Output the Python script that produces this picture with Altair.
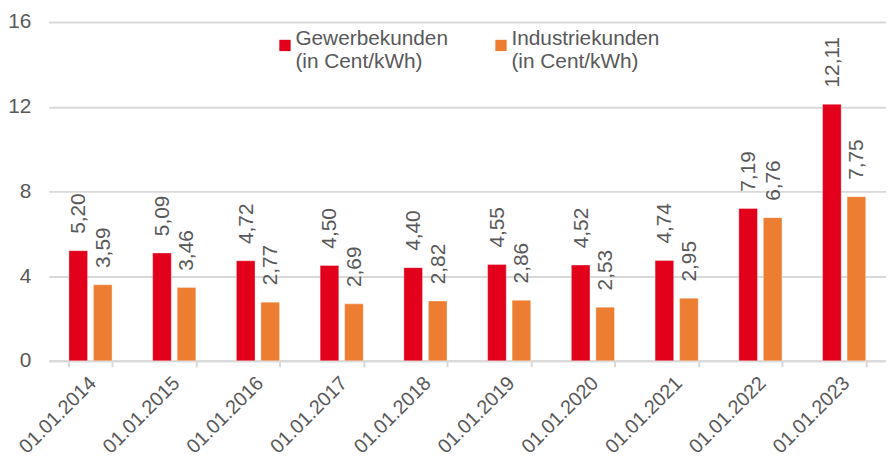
import altair as alt
import pandas as pd

dates = ["01.01.2014", "01.01.2015", "01.01.2016", "01.01.2017", "01.01.2018",
         "01.01.2019", "01.01.2020", "01.01.2021", "01.01.2022", "01.01.2023"]
gewerbe = [5.20, 5.09, 4.72, 4.50, 4.40, 4.55, 4.52, 4.74, 7.19, 12.11]
industrie = [3.59, 3.46, 2.77, 2.69, 2.82, 2.86, 2.53, 2.95, 6.76, 7.75]
series = ["Gewerbekunden", "Industriekunden"]
colors = ["#E2001A", "#ED7D31"]
y_ticks = [0, 4, 8, 12, 16]

rows = []
for d, g, i in zip(dates, gewerbe, industrie):
    rows.append({"date": d, "series": series[0], "value": g})
    rows.append({"date": d, "series": series[1], "value": i})
df = pd.DataFrame(rows)

FONT = "Liberation Sans"
GREY = "#595959"
GRID = "#d9d9d9"
FS = 21

x = alt.X("date:N", sort=dates, title=None,
          scale=alt.Scale(paddingInner=0.485, paddingOuter=0.2425),
          axis=alt.Axis(labelAngle=-45, labelFontSize=20, labelColor=GREY, labelFont=FONT,
                        labelAlign="right", labelBaseline="middle",
                        domainColor=GRID, domainWidth=2, tickColor=GRID, tickWidth=2,
                        tickSize=6, tickBand="extent", labelPadding=13, labelOffset=2,
                        grid=False))
xo = alt.XOffset("series:N", sort=series,
                 scale=alt.Scale(paddingInner=0.24, paddingOuter=0))
y = alt.Y("value:Q", title=None,
          scale=alt.Scale(domain=[0, 16], nice=False),
          axis=alt.Axis(values=y_ticks, labelFontSize=FS, labelColor=GREY, labelFont=FONT,
                        domain=False, ticks=False, labelPadding=18,
                        gridColor=GRID, gridWidth=2))

base = alt.Chart(df).transform_calculate(
    label="replace(format(datum.value, '.2f'), '.', ',')"
).encode(x=x, xOffset=xo)

bars = base.mark_bar(stroke="white", strokeOpacity=0.35, strokeWidth=1).encode(
    y=y,
    color=alt.Color("series:N", sort=series,
                    scale=alt.Scale(domain=series, range=colors),
                    legend=alt.Legend(title=None, orient="none", legendX=228, legendY=13,
                                      direction="horizontal", symbolType="square",
                                      symbolSize=130, symbolStrokeWidth=0,
                                      labelFontSize=FS, labelFont=FONT, labelColor=GREY,
                                      labelExpr="[datum.label, '(in Cent/kWh)']",
                                      labelBaseline="alphabetic",
                                      labelOffset=0, columnPadding=42, padding=0,
                                      labelLimit=300)),
)

text = base.mark_text(angle=270, align="left", baseline="middle", dx=17, dy=1,
                      fontSize=FS, font=FONT, color=GREY).encode(
    y=y, text="label:N")

chart = alt.layer(bars, text).properties(
    width=845, height=342,
    autosize=alt.AutoSizeParams(type="none"),
    padding={"left": 41, "top": 12, "right": 0, "bottom": 97},
).configure_view(stroke=None)

chart.save("out.html", embed_options={"renderer": "svg", "actions": False})
